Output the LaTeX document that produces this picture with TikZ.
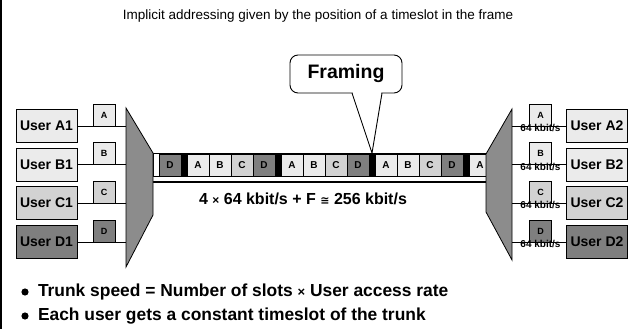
\documentclass[tikz,border=0pt]{standalone}
\usepackage{fontspec}
\setmainfont{Liberation Sans}
\newfontfamily\symfnt{DejaVu Sans}
\definecolor{lgA}{HTML}{EBEBEB}
\definecolor{lgC}{HTML}{D2D2D2}
\definecolor{dgD}{HTML}{7F7F7F}
\definecolor{trapc}{HTML}{8C8C8C}
\begin{document}
\begin{tikzpicture}[x=1pt,y=-1pt,
  every node/.style={inner sep=0pt, outer sep=0pt},
  userbox/.style={draw, line width=0.8pt, minimum width=61pt, minimum height=33pt,
    font=\bfseries\fontsize{14}{14}\selectfont},
  tagbox/.style={draw, line width=0.6pt, minimum width=22pt, minimum height=22pt,
    font=\bfseries\fontsize{9}{9}\selectfont},
  slotbox/.style={draw, line width=0.6pt, minimum width=22pt, minimum height=22pt,
    font=\bfseries\fontsize{10}{10}\selectfont},
  wire/.style={line width=0.8pt},
  mux/.style={draw, line width=0.8pt, fill=trapc},
  rate/.style={font=\bfseries\fontsize{10}{10}\selectfont, anchor=north},
  bullet/.style={anchor=west, font=\bfseries\fontsize{17.4}{17.4}\selectfont},
]
\useasboundingbox (0,0) rectangle (637,329);
\draw[line width=1.3pt] (1,0) -- (1,329);

% title
\node (title) at (318,16) {\fontsize{13.5}{13.5}\selectfont Implicit addressing given by the position of a timeslot in the frame};

% multiplexer / demultiplexer outlines
\coordinate (mlt) at (126,108); \coordinate (mrt) at (153,153);
\coordinate (mrb) at (153,215); \coordinate (mlb) at (126,267);
\coordinate (dlt) at (486,154); \coordinate (drt) at (512,109);
\coordinate (drb) at (512,260); \coordinate (dlb) at (486,212);

% trunk frame strip
\draw[line width=0.8pt, fill=white] (153,153) rectangle (486,176.5);
\draw[line width=2.4pt] (153,182) -- (486,182);

% timeslots: D | A B C D | A B C D | A B C D | A
\node[slotbox, fill=dgD] (s0) at (170,165) {D};
\fill (181,154) rectangle (187,176);
\foreach \k in {0,1,2} {
  \pgfmathsetmacro{\xo}{187+94*\k}
  \node[slotbox, fill=lgA] (a\k) at (\xo+11,165) {A};
  \node[slotbox, fill=lgA] (b\k) at (\xo+33,165) {B};
  \node[slotbox, fill=lgC] (c\k) at (\xo+55,165) {C};
  \node[slotbox, fill=dgD] (d\k) at (\xo+77,165) {D};
  \fill (\xo+88,154) rectangle (\xo+94,176);
}
\node[slotbox, fill=lgA] (a3) at (480,165) {A};

\draw[mux] (mlt) -- (mrt) -- (mrb) -- (mlb) -- cycle;
\draw[mux] (dlt) -- (drt) -- (drb) -- (dlb) -- cycle;

\node[font=\bfseries\fontsize{16}{16}\selectfont] (rate) at (303,199)
  {4 {\fontsize{12}{12}\selectfont×} 64 kbit/s + F {\symfnt\fontsize{11}{11}\selectfont ≅} 256 kbit/s};

% users on both sides
\foreach \n/\r/\c in {A/126/lgA, B/164.5/lgA, C/203/lgC, D/242/dgD} {
  \node[userbox, fill=\c] (u\n1) at (46.5,\r) {User \n1};
  \node[tagbox, fill=\c] (t\n1) at (104,\r-11) {\n};
  \draw[wire] (u\n1.east) -- (u\n1.east -| mlt);
  \node[userbox, fill=\c] (u\n2) at (597,\r) {User \n2};
  \node[tagbox, fill=\c] (t\n2) at (540.5,\r-11) {\n};
  \draw[wire] (u\n2.west) -- (u\n2.west -| drt);
  \node[rate] (r\n2) at ([yshift=1.5pt]t\n2.south) {64 kbit/s};
}

% framing callout
\node[draw, line width=0.9pt, rounded corners=8pt, minimum width=112pt, minimum height=38pt,
  font=\bfseries\fontsize{19.5}{19.5}\selectfont] (frm) at (346,74) {Framing};
\coordinate (ptip) at (372,153);
\fill[white] (352.6,92) -- (381.4,92) -- (372,150) -- cycle;
\draw[line width=0.9pt] (352,93) -- (ptip) -- (382,93);

% bullet points
\node[bullet] (l1) at (38,292)
  {Trunk speed = Number of slots {\fontsize{13}{13}\selectfont×} User access rate};
\node[bullet] (l2) at (38,316)
  {Each user gets a constant timeslot of the trunk};
\fill (25,292) circle (3.6pt);
\fill (25,316) circle (3.6pt);
\end{tikzpicture}
\end{document}
